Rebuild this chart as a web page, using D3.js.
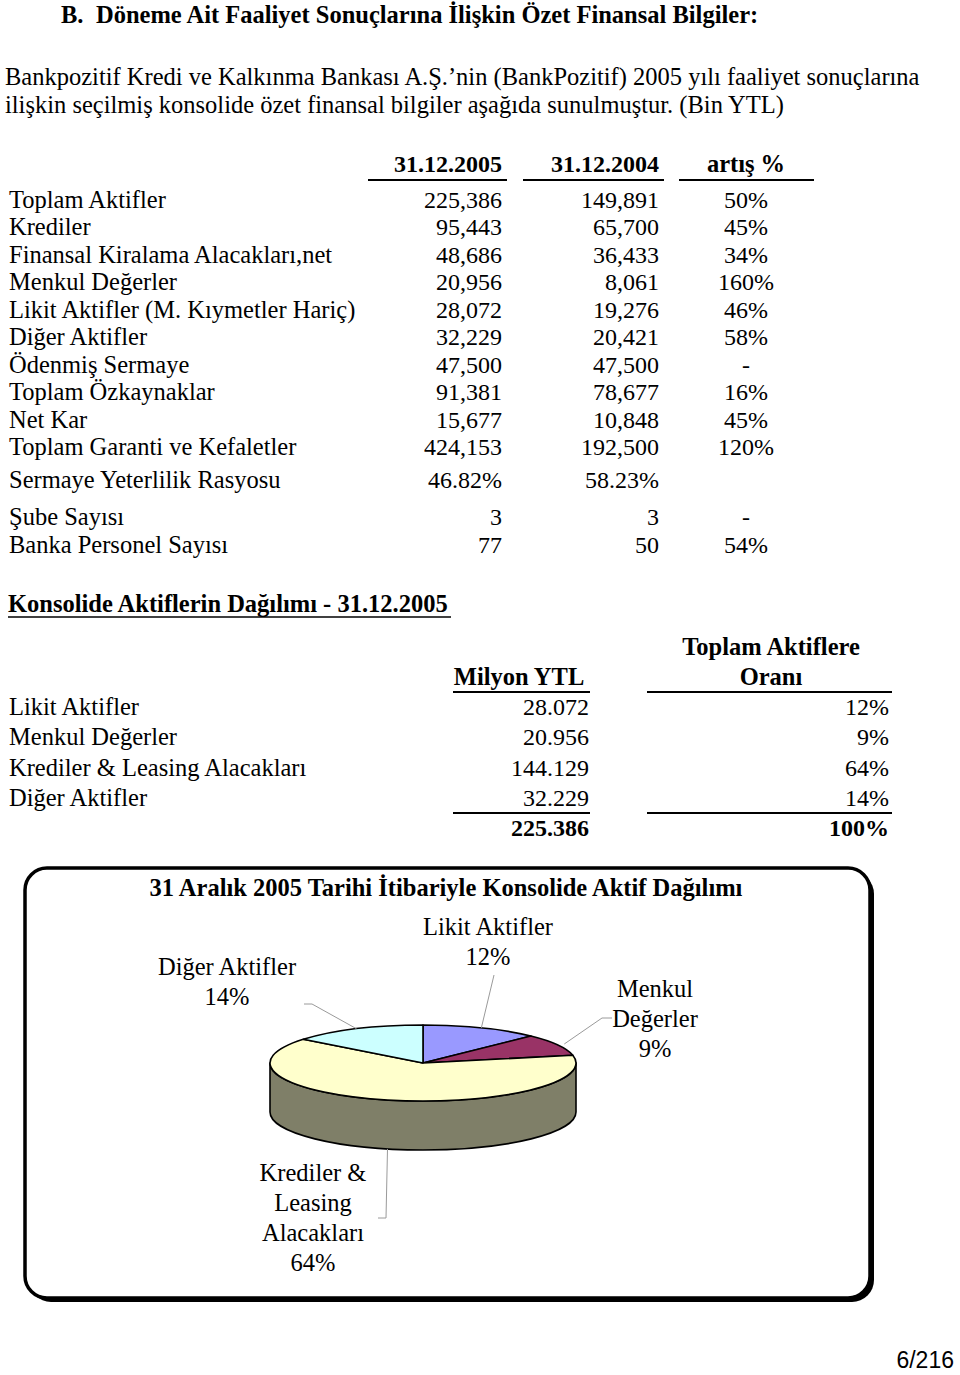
<!DOCTYPE html>
<html><head><meta charset="utf-8">
<script src="https://cdn.jsdelivr.net/npm/d3@7"></script>
<style>body{margin:0;background:#fff}svg{display:block}</style>
</head><body>
<script>
// ---------- DATA ----------
const pageTitleMark = "B.";
const pageTitle = "Döneme Ait Faaliyet Sonuçlarına İlişkin Özet Finansal Bilgiler:";
const introLines = [
  "Bankpozitif Kredi ve Kalkınma Bankası A.Ş.’nin (BankPozitif) 2005 yılı faaliyet sonuçlarına",
  "ilişkin seçilmiş konsolide özet finansal bilgiler aşağıda sunulmuştur. (Bin YTL)"
];
const summaryHeaders = ["31.12.2005", "31.12.2004", "artış %"];
const summaryLabels = ["Toplam Aktifler","Krediler","Finansal Kiralama Alacakları,net","Menkul Değerler",
  "Likit Aktifler (M. Kıymetler Hariç)","Diğer Aktifler","Ödenmiş Sermaye","Toplam Özkaynaklar","Net Kar",
  "Toplam Garanti ve Kefaletler","Sermaye Yeterlilik Rasyosu","Şube Sayısı","Banka Personel Sayısı"];
const values2005 = ["225,386","95,443","48,686","20,956","28,072","32,229","47,500","91,381","15,677","424,153","46.82%","3","77"];
const values2004 = ["149,891","65,700","36,433","8,061","19,276","20,421","47,500","78,677","10,848","192,500","58.23%","3","50"];
const increase = ["50%","45%","34%","160%","46%","58%","-","16%","45%","120%","","-","54%"];

const distTitle = "Konsolide Aktiflerin Dağılımı - 31.12.2005";
const distCategories = ["Likit Aktifler","Menkul Değerler","Krediler & Leasing Alacakları","Diğer Aktifler"];
const distValues = [28.072, 20.956, 144.129, 32.229];
const distValueLabels = ["28.072","20.956","144.129","32.229"];
const distShareLabels = ["12%","9%","64%","14%"];
const distTotalLabel = "225.386";
const distTotalShare = "100%";

const chartTitle = "31 Aralık 2005 Tarihi İtibariyle Konsolide Aktif Dağılımı";
const pieLabelLines = [["Likit Aktifler","12%"],["Menkul","Değerler","9%"],["Krediler &","Leasing","Alacakları","64%"],["Diğer Aktifler","14%"]];
const pageNumber = "6/216";

// ---------- LAYOUT ----------
const W = 960, H = 1375;
const serif = "'Liberation Serif','Times New Roman',serif";
const FS = 24.5;
const rowSlots = [0,1,2,3,4,5,6,7,8,9,10.2,11.55,12.57];
const topTop = 208, topStep = 27.44;
const svg = d3.select("body").append("svg").attr("width", W).attr("height", H);
svg.append("rect").attr("width", W).attr("height", H).attr("fill", "#fff");

function txt(g, x, y, s, opts = {}) {
  return g.append("text").attr("x", x).attr("y", y).text(s)
    .attr("font-family", opts.family || serif)
    .attr("font-size", opts.size || FS)
    .attr("font-weight", opts.bold ? "bold" : "normal")
    .attr("text-anchor", opts.anchor || "start")
    .attr("fill", "#000");
}

// title & intro
txt(svg, 61, 23, pageTitleMark, {bold: true});
txt(svg, 96, 23, pageTitle, {bold: true});
introLines.forEach((l, i) => txt(svg, 5, 85 + i * 27.5, l));

// ---------- summary table ----------
const yTop = d3.scaleLinear().domain([0, 1]).range([topTop, topTop + topStep]);
const colX = {c1: 502, c2: 659, c3: 746};
const headG = svg.append("g");
txt(headG, colX.c1, 172, summaryHeaders[0], {bold: true, anchor: "end", size: 24});
txt(headG, colX.c2, 172, summaryHeaders[1], {bold: true, anchor: "end", size: 24});
txt(headG, colX.c3, 172, summaryHeaders[2], {bold: true, anchor: "middle"});
[[368,507],[523,664],[679,814]].forEach(([a,b]) =>
  headG.append("line").attr("x1",a).attr("x2",b).attr("y1",180).attr("y2",180).attr("stroke","#000").attr("stroke-width",2));

const rows = svg.append("g").selectAll("g").data(summaryLabels).join("g")
  .attr("transform", (d, i) => `translate(0,${yTop(rowSlots[i])})`);
rows.each(function(d, i) {
  const g = d3.select(this);
  txt(g, 9, 0, d);
  txt(g, colX.c1, 0, values2005[i], {anchor: "end", size: 24});
  txt(g, colX.c2, 0, values2004[i], {anchor: "end", size: 24});
  if (increase[i]) txt(g, colX.c3, 0, increase[i], {anchor: "middle", size: 24});
});

// ---------- distribution table ----------
const dt = svg.append("g");
txt(dt, 8, 612, distTitle, {bold: true});
dt.append("line").attr("x1", 8).attr("x2", 451).attr("y1", 617).attr("y2", 617).attr("stroke", "#000").attr("stroke-width", 1.5);
txt(dt, 771, 655, "Toplam Aktiflere", {bold: true, anchor: "middle"});
txt(dt, 519, 685, "Milyon YTL", {bold: true, anchor: "middle"});
txt(dt, 771, 685, "Oranı", {bold: true, anchor: "middle"});
[[453,590],[647,892]].forEach(([a,b]) => {
  dt.append("line").attr("x1",a).attr("x2",b).attr("y1",692).attr("y2",692).attr("stroke","#000").attr("stroke-width",2);
  dt.append("line").attr("x1",a).attr("x2",b).attr("y1",813).attr("y2",813).attr("stroke","#000").attr("stroke-width",2);
});
const yDist = d3.scaleLinear().domain([0, 1]).range([715, 745.25]);
distCategories.forEach((c, i) => {
  txt(dt, 9, yDist(i), c);
  txt(dt, 589, yDist(i), distValueLabels[i], {anchor: "end", size: 24});
  txt(dt, 889, yDist(i), distShareLabels[i], {anchor: "end", size: 24});
});
txt(dt, 589, yDist(4), distTotalLabel, {bold: true, anchor: "end", size: 24});
txt(dt, 889, yDist(4), distTotalShare, {bold: true, anchor: "end", size: 24});

// ---------- chart box ----------
const box = {x: 25, y: 868, w: 845, h: 430, r: 22};
svg.append("rect").attr("x", box.x + 4).attr("y", box.y + 4).attr("width", box.w).attr("height", box.h)
  .attr("rx", box.r).attr("fill", "#000");
svg.append("rect").attr("x", box.x).attr("y", box.y).attr("width", box.w).attr("height", box.h)
  .attr("rx", box.r).attr("fill", "#fff").attr("stroke", "#000").attr("stroke-width", 3.5);
txt(svg, 446, 896, chartTitle, {bold: true, size: 24.5, anchor: "middle"});

// ---------- 3D pie ----------
const pie3 = {cx: 423, cy: 1063, rx: 153, ry: 38, depth: 49};
const topColor = d3.scaleOrdinal().domain(distCategories).range(["#9999FF","#993366","#FFFFCC","#CCFFFF"]);
const sideColor = d3.scaleOrdinal().domain(distCategories).range(["#5c5c99","#5c1f3d","#7f7f68","#7a9999"]);
const arcs = d3.pie().sort(null).startAngle(0).endAngle(2 * Math.PI)(distValues);
const P = (a, dy = 0, k = 1) => [pie3.cx + k * pie3.rx * Math.sin(a), pie3.cy - k * pie3.ry * Math.cos(a) + dy];
const pg = svg.append("g").attr("stroke", "#000").attr("stroke-width", 1.6).attr("stroke-linejoin", "round");

arcs.forEach((a, i) => {
  const s = Math.max(a.startAngle, Math.PI / 2), e = Math.min(a.endAngle, 3 * Math.PI / 2);
  if (e <= s) return;
  const p0 = P(s), p1 = P(e), p2 = P(e, pie3.depth), p3 = P(s, pie3.depth);
  const large = (e - s) > Math.PI ? 1 : 0;
  pg.append("path").attr("fill", sideColor(distCategories[i]))
    .attr("d", `M${p0}A${pie3.rx},${pie3.ry} 0 ${large} 1 ${p1}L${p2}A${pie3.rx},${pie3.ry} 0 ${large} 0 ${p3}Z`);
});
arcs.forEach((a, i) => {
  const p0 = P(a.startAngle), p1 = P(a.endAngle);
  const large = (a.endAngle - a.startAngle) > Math.PI ? 1 : 0;
  pg.append("path").attr("fill", topColor(distCategories[i]))
    .attr("d", `M${pie3.cx},${pie3.cy}L${p0}A${pie3.rx},${pie3.ry} 0 ${large} 1 ${p1}Z`);
});

const labelLayout = [
  {x: 488, y: 935, leader: mid => [P(mid), [494, 975]]},
  {x: 655, y: 997, leader: mid => [P(mid, 0, 1.05), [602, 1018], [612, 1018]]},
  {x: 313, y: 1181, leader: mid => [P(mid, pie3.depth), [386, 1218], [378, 1218]]},
  {x: 227, y: 975, leader: mid => [P(mid), [312, 1004], [304, 1004]]}
];
const lg = svg.append("g");
arcs.forEach((a, i) => {
  const mid = (a.startAngle + a.endAngle) / 2;
  const L = labelLayout[i];
  lg.append("path").attr("d", d3.line()(L.leader(mid))).attr("fill", "none").attr("stroke", "#9a9a9a").attr("stroke-width", 1);
  pieLabelLines[i].forEach((s, j) => txt(lg, L.x, L.y + j * 30, s, {size: 24.5, anchor: "middle"}));
});

// page number
txt(svg, 954, 1368, pageNumber, {family: "'Liberation Sans',Arial,sans-serif", size: 23, anchor: "end"});
</script>
</body></html>
